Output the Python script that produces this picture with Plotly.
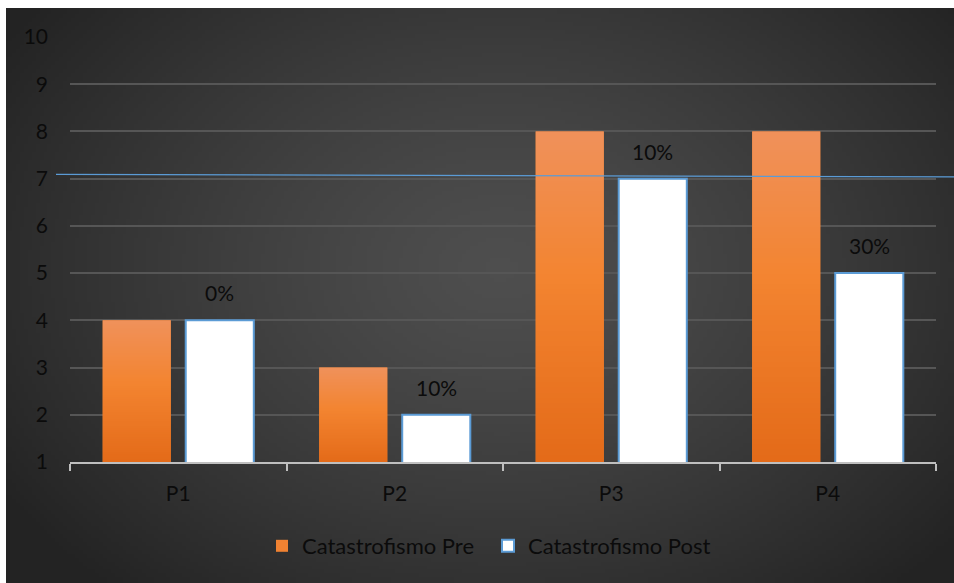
import base64
import struct
import zlib

import plotly.graph_objects as go

# Chart data
categories = ["P1", "P2", "P3", "P4"]
pre_values = [4, 3, 8, 8]
post_values = [4, 2, 7, 5]
post_labels = ["0%", "10%", "10%", "30%"]
y_ticks = [1, 2, 3, 4, 5, 6, 7, 8, 9, 10]
threshold = (7.09, 7.04)

W, H = 954, 583
M_L, M_R, M_T, M_B = 70, 18, 37, 121
PLOT_W = W - M_L - M_R
PLOT_H = H - M_T - M_B

Y_MIN, Y_MAX = 1, 10
BARGAP, BARGROUPGAP = 0.233, 0.18

FONT = "Lato"
TEXT_COLOR = "#0b0b0b"
ORANGE = "#F08232"
BLUE = "#5B9BD5"


def png_uri(w, h, pixel):
    """Encode a tiny RGB PNG as a data URI; pixel(i, j) -> (r, g, b)."""
    raw = bytearray()
    for j in range(h):
        raw.append(0)
        for i in range(w):
            raw += bytes(pixel(i, j))

    def chunk(tag, data):
        c = struct.pack(">I", len(data)) + tag + data
        return c + struct.pack(">I", zlib.crc32(tag + data) & 0xFFFFFFFF)

    png = (b"\x89PNG\r\n\x1a\n"
           + chunk(b"IHDR", struct.pack(">IIBBBBB", w, h, 8, 2, 0, 0, 0))
           + chunk(b"IDAT", zlib.compress(bytes(raw), 9))
           + chunk(b"IEND", b""))
    return "data:image/png;base64," + base64.b64encode(png).decode()


def backdrop(i, j, w=240, h=146):
    cx, cy = 0.52 * w, 0.45 * h
    rx, ry = 0.62 * w, 0.75 * h
    d = min((((i - cx) / rx) ** 2 + ((j - cy) / ry) ** 2) ** 0.5, 1.0)
    v = int(round(78 + (35 - 78) * d ** 1.3))
    return (v, v, v)


def lerp(a, b, t):
    return tuple(int(round(x + (y - x) * t)) for x, y in zip(a, b))


def orange_fade(i, j, h=64):
    # light peach at the top, bright orange mid-way, deeper orange at the base
    top, mid, base = (240, 145, 90), (243, 132, 48), (228, 107, 25)
    t = j / (h - 1)
    return lerp(top, mid, t / 0.45) if t < 0.45 else lerp(mid, base, (t - 0.45) / 0.55)


fig = go.Figure()

fig.add_trace(go.Bar(
    name="Catastrofismo Pre",
    x=categories,
    y=pre_values,
    marker=dict(color=ORANGE, line=dict(width=0)),
))
fig.add_trace(go.Bar(
    name="Catastrofismo Post",
    x=categories,
    y=post_values,
    marker=dict(color="#FFFFFF", line=dict(color=BLUE, width=2)),
))

# Vertical colour fade laid over each "Pre" bar (same slot geometry as the bars)
slot = (1 - BARGAP) / 2
bar_w = slot * (1 - BARGROUPGAP)
fade_src = png_uri(4, 64, orange_fade)
for idx, val in enumerate(pre_values):
    fig.add_layout_image(
        source=fade_src, xref="x", yref="y",
        x=idx - slot / 2, y=val,
        sizex=bar_w, sizey=val - Y_MIN,
        xanchor="center", yanchor="top",
        sizing="stretch", layer="above",
    )

# Percentage labels above the "Post" bars
for cat, val, lab in zip(categories, post_values, post_labels):
    fig.add_annotation(
        x=cat, y=val, xref="x", yref="y",
        text=lab, showarrow=False,
        xshift=slot / 2 * PLOT_W / len(categories), yshift=13, yanchor="bottom",
        font=dict(family=FONT, size=21, color=TEXT_COLOR),
    )

# Thin blue reference line across the chart
fig.add_shape(
    type="line", xref="paper", yref="y",
    x0=(56 - M_L) / PLOT_W, x1=(W - M_L) / PLOT_W,
    y0=threshold[0], y1=threshold[1],
    line=dict(color=BLUE, width=1.2),
    layer="above",
)

# Dark backdrop with a soft central glow
fig.add_layout_image(
    source=png_uri(240, 146, backdrop),
    xref="paper", yref="paper",
    x=(6 - M_L) / PLOT_W, y=1 + (M_T - 8) / PLOT_H,
    sizex=(W - 6) / PLOT_W, sizey=(H - 8) / PLOT_H,
    xanchor="left", yanchor="top",
    sizing="stretch", layer="below",
)

fig.update_layout(
    width=W, height=H,
    margin=dict(l=M_L, r=M_R, t=M_T, b=M_B),
    paper_bgcolor="#FFFFFF",
    plot_bgcolor="rgba(0,0,0,0)",
    barmode="group",
    bargap=BARGAP,
    bargroupgap=BARGROUPGAP,
    font=dict(family=FONT, size=21, color=TEXT_COLOR),
    showlegend=True,
    legend=dict(
        orientation="h",
        x=(282 - 20) / W, xanchor="left", xref="container",
        y=(H - 546) / H, yanchor="middle", yref="container",
        font=dict(family=FONT, size=22, color=TEXT_COLOR),
        bgcolor="rgba(0,0,0,0)",
        entrywidth=181,
        itemwidth=30,
        traceorder="normal",
    ),
    xaxis=dict(
        showgrid=False,
        showline=True, linecolor="#BFBFBF", linewidth=1.5,
        ticks="outside", tickson="boundaries", ticklen=7,
        tickcolor="#BFBFBF", tickwidth=1.5,
        ticklabelstandoff=12,
        tickfont=dict(family=FONT, size=21, color=TEXT_COLOR),
        zeroline=False,
    ),
    yaxis=dict(
        range=[Y_MIN, Y_MAX],
        tickvals=y_ticks,
        showgrid=True, gridcolor="#565656", gridwidth=1.5,
        showline=False, zeroline=False,
        ticks="", ticklabelstandoff=21,
        tickfont=dict(family=FONT, size=21, color=TEXT_COLOR),
    ),
)

fig.write_html("out.html")
